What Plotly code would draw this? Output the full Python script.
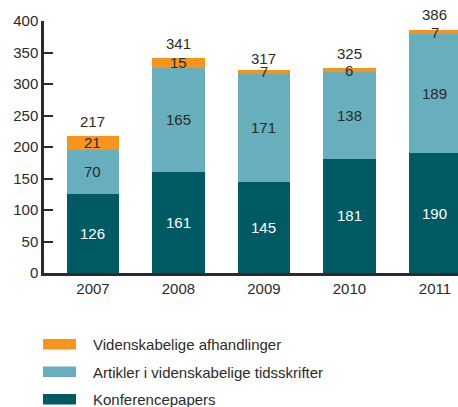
import plotly.graph_objects as go

years = ["2007", "2008", "2009", "2010", "2011"]
konference = [126, 161, 145, 181, 190]
artikler = [70, 165, 171, 138, 189]
afhandlinger = [21, 15, 7, 6, 7]
totals = [217, 341, 317, 325, 386]

series_names = ["Konferencepapers", "Artikler i videnskabelige tidsskrifter", "Videnskabelige afhandlinger"]
series_values = [konference, artikler, afhandlinger]
colors = ["#005A64", "#68AFBD", "#F7941D"]
label_colors = ["white", "#2b2b2b", "#2b2b2b"]

FONT = "Liberation Sans, Arial, sans-serif"

fig = go.Figure()
for name, vals, col in zip(series_names, series_values, colors):
    fig.add_trace(go.Bar(x=years, y=vals, name=name, marker=dict(color=col, line=dict(width=0)),
                         width=0.61, showlegend=False, hoverinfo="skip"))

ann = []
for i, y in enumerate(years):
    base = 0
    for vals, lc in zip(series_values, label_colors):
        v = vals[i]
        ann.append(dict(x=i, y=base + v / 2, text=str(v), showarrow=False, xref="x", yref="y",
                        font=dict(family=FONT, size=15, color=lc)))
        base += v
    ann.append(dict(x=i, y=totals[i], text=str(totals[i]), showarrow=False, xref="x", yref="y",
                    yshift=15, font=dict(family=FONT, size=15, color="#2b2b2b")))

# manual legend (top to bottom: orange, light, dark)
PW, PH, PT = 414.0, 252.0, 273.0
def px(xp):
    return (xp - 44) / PW
def py(yp):
    return (PT - yp) / PH

shapes = []
legend_rows = [(2, 339), (1, 366.5), (0, 394)]
for idx, top in legend_rows:
    shapes.append(dict(type="rect", xref="paper", yref="paper", x0=px(43), x1=px(76),
                       y0=py(top + 10.5), y1=py(top), fillcolor=colors[idx], line=dict(width=0)))
    ann.append(dict(xref="paper", yref="paper", x=px(91), y=py(top + 5.5), xanchor="left", yanchor="middle",
                    text=series_names[idx], showarrow=False,
                    font=dict(family=FONT, size=15, color="#2b2b2b")))

fig.update_layout(
    width=458, height=407,
    margin=dict(l=44, r=0, t=21, b=134),
    barmode="stack",
    plot_bgcolor="white", paper_bgcolor="white",
    font=dict(family=FONT, size=15, color="#2b2b2b"),
    annotations=ann, shapes=shapes,
    xaxis=dict(type="category", range=[-0.573, 4.27], showline=True, linecolor="#2b2b2b", linewidth=2.5,
               ticks="", showgrid=False, tickfont=dict(size=15, color="#2b2b2b"), fixedrange=True),
    yaxis=dict(range=[0, 400], tickvals=[0, 50, 100, 150, 200, 250, 300, 350, 400], showline=True,
               linecolor="#2b2b2b", linewidth=2.5, ticks="inside", ticklen=9, tickwidth=1.5,
               tickcolor="#2b2b2b", showgrid=False, zeroline=False, tickfont=dict(size=15, color="#2b2b2b"),
               fixedrange=True),
)

fig.write_html("out.html", config={"displayModeBar": False},
               post_script="document.body.style.margin='0';document.body.style.overflow='hidden';")
